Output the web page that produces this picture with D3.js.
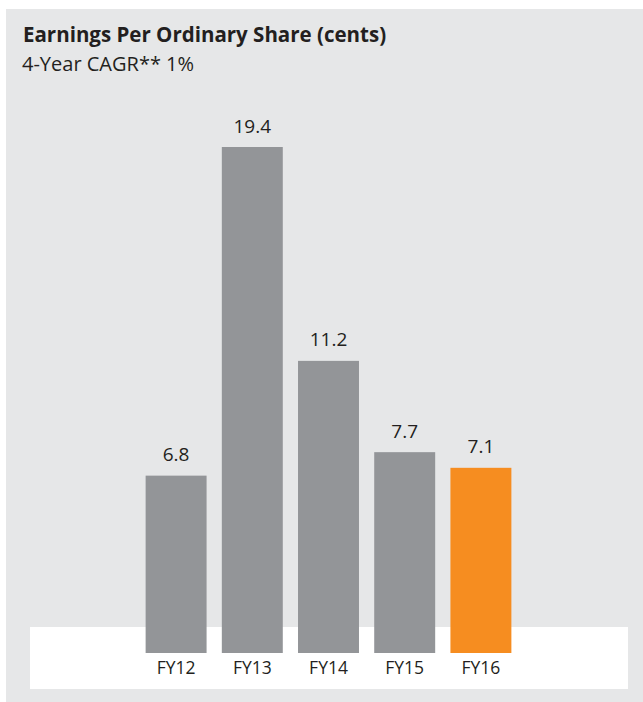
<!DOCTYPE html>
<html><head><meta charset="utf-8">
<script src="https://cdn.jsdelivr.net/npm/d3@7"></script>
<style>body{margin:0;background:#fff;}svg{display:block;}</style>
</head><body>
<script>
const categories = ["FY12","FY13","FY14","FY15","FY16"];
const values = [6.8, 19.4, 11.2, 7.7, 7.1];
const labels = ["6.8","19.4","11.2","7.7","7.1"];
const highlight = ["FY16"];
const title = "Earnings Per Ordinary Share (cents)";
const subtitle = "4-Year CAGR** 1%";

const W = 643, H = 702;
const svg = d3.select("body").append("svg").attr("width", W).attr("height", H);
const font = "'Open Sans', sans-serif";

svg.append("rect").attr("x", 6).attr("y", 9).attr("width", W - 6).attr("height", H - 9).attr("fill", "#e6e7e8");
svg.append("rect").attr("x", 30).attr("y", 627).attr("width", 598).attr("height", 62).attr("fill", "#ffffff");

svg.append("text").attr("x", 23).attr("y", 41.5).attr("font-family", font).attr("font-weight", 700)
  .attr("font-size", 20.5).attr("fill", "#231f20").text(title);
svg.append("text").attr("x", 22).attr("y", 71).attr("font-family", font).attr("font-weight", 400)
  .attr("font-size", 20).attr("fill", "#231f20").text(subtitle);

const x = d3.scaleBand().domain(categories).range([138, 519]).paddingInner(0.2).paddingOuter(0.1);
const y = d3.scaleLinear().domain([0, 19.4]).range([653, 147]);

const g = svg.append("g");
g.selectAll("rect.bar").data(categories).join("rect").attr("class", "bar")
  .attr("x", d => x(d)).attr("width", x.bandwidth())
  .attr("y", (d, i) => y(values[i])).attr("height", (d, i) => y(0) - y(values[i]))
  .attr("fill", d => highlight.includes(d) ? "#f68d20" : "#939598");

g.selectAll("text.val").data(categories).join("text").attr("class", "val")
  .attr("x", d => x(d) + x.bandwidth() / 2).attr("y", (d, i) => y(values[i]) - 14.5)
  .attr("text-anchor", "middle").attr("font-family", font).attr("font-size", 19).attr("fill", "#231f20")
  .text((d, i) => labels[i]);

const axis = d3.axisBottom(x).tickSize(0).tickPadding(0);
const ax = svg.append("g").attr("transform", "translate(0,673.5)").call(axis);
ax.select(".domain").remove();
ax.selectAll("text").attr("font-family", font).attr("font-size", 17.5).attr("fill", "#231f20").attr("y", 0).attr("dy", 0);
</script>
</body></html>
